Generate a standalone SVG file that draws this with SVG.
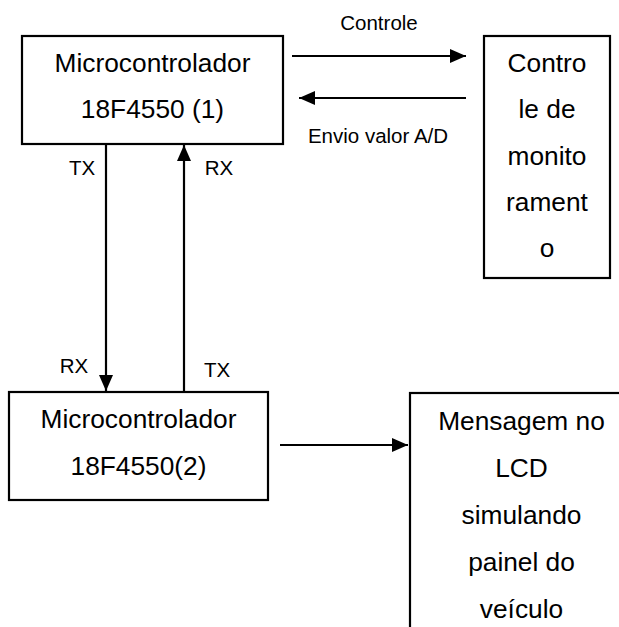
<svg xmlns="http://www.w3.org/2000/svg" width="619" height="627" viewBox="0 0 619 627">
<style>
.box{fill:#fff;stroke:#000;stroke-width:2.2}
.t{font-family:"Liberation Sans",Arial,sans-serif;font-size:26.3px;fill:#000;text-anchor:middle}
.l{font-family:"Liberation Sans",Arial,sans-serif;font-size:20.5px;fill:#000;text-anchor:middle}
.c{stroke:#000;stroke-width:2.2;fill:none}
</style>
<defs>
<marker id="ah" markerWidth="16" markerHeight="14" refX="16" refY="7" orient="auto" markerUnits="userSpaceOnUse">
<path d="M0,0 L16,7 L0,14 Z" fill="#000"/>
</marker>
</defs>
<rect width="619" height="627" fill="#fff"/>
<g id="mc1">
<rect class="box" x="22" y="36" width="261" height="108"/>
<text class="t" x="152.5" y="72">Microcontrolador</text>
<text class="t" x="152.5" y="118">18F4550 (1)</text>
</g>
<g id="ctrl">
<rect class="box" x="484" y="36" width="126" height="242"/>
<text class="t" x="547" y="72">Contro</text>
<text class="t" x="547" y="118">le de</text>
<text class="t" x="547" y="165">monito</text>
<text class="t" x="547" y="211">rament</text>
<text class="t" x="547" y="257">o</text>
</g>
<g id="mc2">
<rect class="box" x="9" y="392" width="259" height="108"/>
<text class="t" x="138.5" y="428">Microcontrolador</text>
<text class="t" x="138.5" y="475">18F4550(2)</text>
</g>
<g id="lcd">
<rect class="box" x="410" y="393" width="230" height="260"/>
<text class="t" x="521.5" y="430">Mensagem no</text>
<text class="t" x="521.5" y="477">LCD</text>
<text class="t" x="521.5" y="524">simulando</text>
<text class="t" x="521.5" y="571">painel do</text>
<text class="t" x="521.5" y="618">veículo</text>
</g>
<g id="connectors">
<line class="c" x1="292" y1="56" x2="466" y2="56" marker-end="url(#ah)"/>
<line class="c" x1="466" y1="98" x2="299" y2="98" marker-end="url(#ah)"/>
<line class="c" x1="106" y1="144" x2="106" y2="391" marker-end="url(#ah)"/>
<line class="c" x1="184" y1="392" x2="184" y2="145" marker-end="url(#ah)"/>
<line class="c" x1="280" y1="445" x2="408" y2="445" marker-end="url(#ah)"/>
<text class="l" x="379" y="30">Controle</text>
<text class="l" x="378" y="143">Envio valor A/D</text>
<text class="l" x="82" y="175">TX</text>
<text class="l" x="219" y="175">RX</text>
<text class="l" x="74" y="373">RX</text>
<text class="l" x="217" y="377">TX</text>
</g>
</svg>
